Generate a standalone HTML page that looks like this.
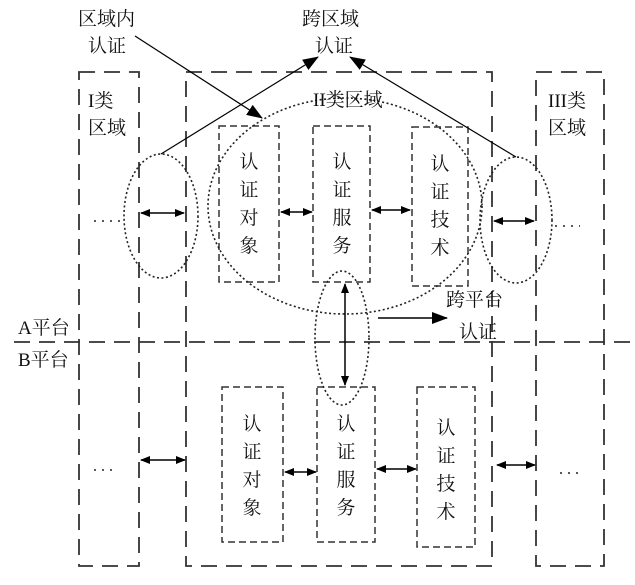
<!DOCTYPE html>
<html><head><meta charset="utf-8"><style>
body{margin:0;background:#fff}
svg text{font-family:"Liberation Serif","Noto Serif CJK SC","Noto Sans CJK SC",serif;font-size:19px;fill:#111}
</style></head><body>
<svg width="635" height="580" viewBox="0 0 635 580" xmlns="http://www.w3.org/2000/svg">
<defs>
<marker id="a" markerWidth="10" markerHeight="8" refX="9" refY="4" orient="auto-start-reverse" markerUnits="userSpaceOnUse"><path d="M0,0L10,4L0,8z" fill="#000"/></marker>
<marker id="b" markerWidth="16" markerHeight="12" refX="15" refY="6" orient="auto" markerUnits="userSpaceOnUse"><path d="M0,0L16,6L0,12z" fill="#000"/></marker>
</defs>
<g fill="none" stroke="#333" stroke-width="1.8" stroke-dasharray="16,9">
<rect x="79" y="72" width="60" height="494"/>
<rect x="186" y="72" width="306" height="494"/>
<rect x="536" y="72" width="68" height="494"/>
<line x1="14" y1="342" x2="630" y2="342"/>
</g>
<g fill="none" stroke="#333" stroke-width="1.5" stroke-dasharray="7,4">
<rect x="219" y="126" width="60" height="156"/>
<rect x="313" y="126" width="57" height="156"/>
<rect x="412" y="127" width="56" height="159"/>
<rect x="222" y="387" width="61" height="155"/>
<rect x="317" y="387" width="58" height="155"/>
<rect x="417" y="387" width="58" height="160"/>
</g>
<g fill="none" stroke="#222" stroke-width="1.6" stroke-dasharray="2,2.5">
<ellipse cx="161" cy="216" rx="37" ry="62"/>
<ellipse cx="345" cy="206" rx="137" ry="108"/>
<ellipse cx="516" cy="220" rx="36" ry="63"/>
<ellipse cx="342" cy="338" rx="27" ry="67"/>
</g>
<g fill="none" stroke="#222" stroke-width="1.6" stroke-dasharray="2,6">
<line x1="94" y1="221" x2="122" y2="221"/>
<line x1="555" y1="226" x2="580" y2="226"/>
<line x1="94" y1="470" x2="116" y2="470"/>
<line x1="560" y1="473" x2="584" y2="473"/>
</g>
<g stroke="#000" stroke-width="1.5" fill="none">
<line x1="141" y1="213" x2="184" y2="213" marker-start="url(#a)" marker-end="url(#a)"/>
<line x1="281" y1="212" x2="312" y2="212" marker-start="url(#a)" marker-end="url(#a)"/>
<line x1="372" y1="210" x2="410" y2="210" marker-start="url(#a)" marker-end="url(#a)"/>
<line x1="494" y1="221" x2="534" y2="221" marker-start="url(#a)" marker-end="url(#a)"/>
<line x1="141" y1="460" x2="185" y2="460" marker-start="url(#a)" marker-end="url(#a)"/>
<line x1="285" y1="472" x2="316" y2="472" marker-start="url(#a)" marker-end="url(#a)"/>
<line x1="377" y1="469" x2="416" y2="469" marker-start="url(#a)" marker-end="url(#a)"/>
<line x1="497" y1="465" x2="535" y2="465" marker-start="url(#a)" marker-end="url(#a)"/>
<line x1="345" y1="284" x2="345" y2="385" marker-start="url(#a)" marker-end="url(#a)"/>
<line x1="378" y1="318" x2="447" y2="318" marker-end="url(#b)"/>
<line x1="135" y1="36" x2="262" y2="118" marker-end="url(#b)" stroke-width="1.2"/>
<line x1="161" y1="154" x2="318" y2="57" marker-end="url(#b)" stroke-width="1.2"/>
<line x1="516" y1="157" x2="350" y2="57" marker-end="url(#b)" stroke-width="1.2"/>
</g>
<text x="78" y="25">区域内</text>
<text x="88" y="52">认证</text>
<text x="302" y="25">跨区域</text>
<text x="315" y="52">认证</text>
<text x="88" y="107">I类</text>
<text x="88" y="134">区域</text>
<text x="313" y="106">II类区域</text>
<text x="548" y="107">III类</text>
<text x="548" y="134">区域</text>
<text x="18" y="334">A平台</text>
<text x="18" y="366">B平台</text>
<text x="446" y="306">跨平台</text>
<text x="459" y="338">认证</text>
<g text-anchor="middle">
<text x="249" y="168">认</text><text x="249" y="196">证</text><text x="249" y="224">对</text><text x="249" y="252">象</text>
<text x="342" y="168">认</text><text x="342" y="196">证</text><text x="342" y="224">服</text><text x="342" y="252">务</text>
<text x="440" y="170">认</text><text x="440" y="198">证</text><text x="440" y="226">技</text><text x="440" y="254">术</text>
<text x="252" y="430">认</text><text x="252" y="458">证</text><text x="252" y="486">对</text><text x="252" y="514">象</text>
<text x="346" y="430">认</text><text x="346" y="458">证</text><text x="346" y="486">服</text><text x="346" y="514">务</text>
<text x="446" y="434">认</text><text x="446" y="462">证</text><text x="446" y="490">技</text><text x="446" y="518">术</text>
</g>
</svg>
</body></html>
